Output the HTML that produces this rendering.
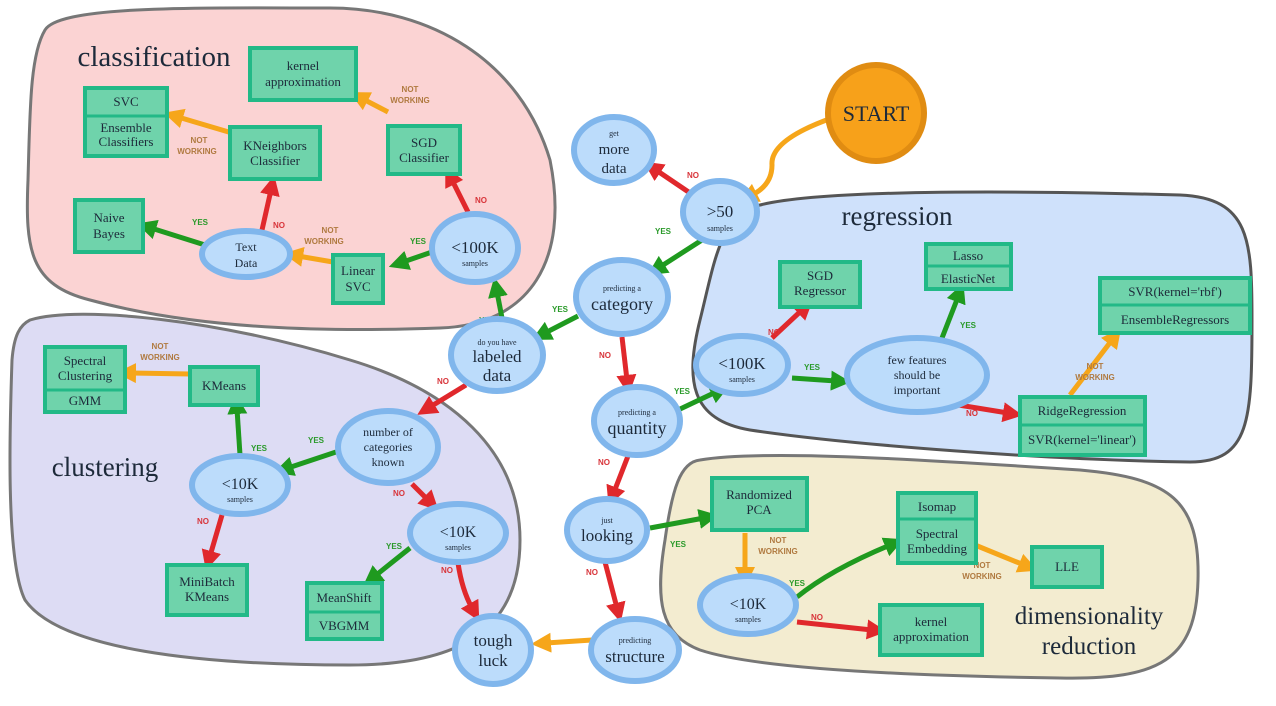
<!DOCTYPE html><html><head><meta charset="utf-8"><style>body{margin:0;background:#fff}svg{display:block}
.t{font-family:"Liberation Serif",serif;fill:#1d2a3a;text-anchor:middle}
.s{font-family:"Liberation Sans",sans-serif;font-size:8px;font-weight:bold;text-anchor:middle}
.y{fill:#2a9a2a}.n{fill:#d8343a}.w{fill:#b07a40}
</style></head><body>
<svg width="1276" height="706" viewBox="0 0 1276 706" xmlns="http://www.w3.org/2000/svg">
<defs>
<marker id="mg" markerWidth="4" markerHeight="4" refX="1" refY="2" orient="auto"><path d="M0,0L4,2L0,4z" fill="#1f9a1f"/></marker>
<marker id="mr" markerWidth="4" markerHeight="4" refX="1" refY="2" orient="auto"><path d="M0,0L4,2L0,4z" fill="#e0282c"/></marker>
<marker id="mo" markerWidth="4" markerHeight="4" refX="1" refY="2" orient="auto"><path d="M0,0L4,2L0,4z" fill="#f6a61a"/></marker>
</defs>
<path d="M45,30 C60,5 200,8 330,8 C430,8 520,60 550,160 C570,260 530,325 440,328 C330,332 200,330 90,300 C30,285 25,250 28,180 C30,110 30,55 45,30Z" fill="#fbd3d3" stroke="#777" stroke-width="3"/>
<path d="M760,205 C820,190 1000,190 1180,195 C1250,198 1252,240 1252,320 C1252,420 1250,462 1190,462 C1050,460 850,445 750,430 C690,420 685,380 700,320 C715,260 720,215 760,205Z" fill="#cfe1fb" stroke="#555" stroke-width="3"/>
<path d="M30,320 C80,305 220,320 350,360 C450,390 520,450 520,540 C520,630 460,665 350,665 C200,665 60,650 25,600 C5,560 10,420 12,360 C14,335 20,325 30,320Z" fill="#dddcf4" stroke="#777" stroke-width="3"/>
<path d="M700,460 C760,450 900,458 1080,470 C1170,478 1200,500 1198,580 C1196,660 1160,680 1060,678 C920,676 760,670 700,650 C660,635 655,600 665,540 C672,490 680,462 700,460Z" fill="#f3ecd0" stroke="#777" stroke-width="3"/>
<text class="t" x="154" y="66" font-size="29">classification</text>
<text class="t" x="897" y="225" font-size="27">regression</text>
<text class="t" x="105" y="476" font-size="27">clustering</text>
<text class="t" x="1089" y="624" font-size="25">dimensionality</text>
<text class="t" x="1089" y="654" font-size="25">reduction</text>
<g fill="none" stroke-width="5">
<path d="M832,118 Q770,140 772,165 Q772,185 752,195" stroke="#f6a61a" marker-end="url(#mo)"/>
<path d="M690,193 L656,170" stroke="#e0282c" marker-end="url(#mr)"/>
<path d="M702,240 L660,267" stroke="#1f9a1f" marker-end="url(#mg)"/>
<path d="M578,316 L545,333" stroke="#1f9a1f" marker-end="url(#mg)"/>
<path d="M622,337 L627,380" stroke="#e0282c" marker-end="url(#mr)"/>
<path d="M502,318 L497,292" stroke="#1f9a1f" marker-end="url(#mg)"/>
<path d="M466,385 L430,407" stroke="#e0282c" marker-end="url(#mr)"/>
<path d="M468,212 L452,180" stroke="#e0282c" marker-end="url(#mr)"/>
<path d="M432,252 L403,262" stroke="#1f9a1f" marker-end="url(#mg)"/>
<path d="M333,262 L298,256" stroke="#f6a61a" marker-end="url(#mo)"/>
<path d="M262,230 L271,190" stroke="#e0282c" marker-end="url(#mr)"/>
<path d="M205,245 L151,228" stroke="#1f9a1f" marker-end="url(#mg)"/>
<path d="M232,133 L178,117" stroke="#f6a61a" marker-end="url(#mo)"/>
<path d="M388,112 L363,99" stroke="#f6a61a" marker-end="url(#mo)"/>
<path d="M678,410 L716,392" stroke="#1f9a1f" marker-end="url(#mg)"/>
<path d="M772,338 L802,310" stroke="#e0282c" marker-end="url(#mr)"/>
<path d="M792,378 L836,381" stroke="#1f9a1f" marker-end="url(#mg)"/>
<path d="M942,338 L958,297" stroke="#1f9a1f" marker-end="url(#mg)"/>
<path d="M940,402 L1008,413" stroke="#e0282c" marker-end="url(#mr)"/>
<path d="M1070,395 L1112,340" stroke="#f6a61a" marker-end="url(#mo)"/>
<path d="M628,456 L614,492" stroke="#e0282c" marker-end="url(#mr)"/>
<path d="M650,528 L704,518" stroke="#1f9a1f" marker-end="url(#mg)"/>
<path d="M605,562 L617,608" stroke="#e0282c" marker-end="url(#mr)"/>
<path d="M592,640 L546,643" stroke="#f6a61a" marker-end="url(#mo)"/>
<path d="M336,452 L288,468" stroke="#1f9a1f" marker-end="url(#mg)"/>
<path d="M412,484 L428,500" stroke="#e0282c" marker-end="url(#mr)"/>
<path d="M240,455 L237,409" stroke="#1f9a1f" marker-end="url(#mg)"/>
<path d="M190,374 L131,373" stroke="#f6a61a" marker-end="url(#mo)"/>
<path d="M222,515 L210,556" stroke="#e0282c" marker-end="url(#mr)"/>
<path d="M410,548 L375,576" stroke="#1f9a1f" marker-end="url(#mg)"/>
<path d="M458,563 Q462,590 472,608" stroke="#e0282c" marker-end="url(#mr)"/>
<path d="M745,533 L745,572" stroke="#f6a61a" marker-end="url(#mo)"/>
<path d="M797,597 Q830,570 890,545" stroke="#1f9a1f" marker-end="url(#mg)"/>
<path d="M797,622 L872,630" stroke="#e0282c" marker-end="url(#mr)"/>
<path d="M975,545 L1024,565" stroke="#f6a61a" marker-end="url(#mo)"/>
</g>
<g class="s">
<text class="n" x="693" y="178">NO</text>
<text class="y" x="663" y="234">YES</text>
<text class="y" x="560" y="312">YES</text>
<text class="n" x="605" y="358">NO</text>
<text class="y" x="487" y="323">YES</text>
<text class="n" x="443" y="384">NO</text>
<text class="n" x="481" y="203">NO</text>
<text class="y" x="418" y="244">YES</text>
<text class="w" x="330" y="233">NOT</text><text class="w" x="324" y="244">WORKING</text>
<text class="n" x="279" y="228">NO</text>
<text class="y" x="200" y="225">YES</text>
<text class="w" x="199" y="143">NOT</text><text class="w" x="197" y="154">WORKING</text>
<text class="w" x="410" y="92">NOT</text><text class="w" x="410" y="103">WORKING</text>
<text class="y" x="682" y="394">YES</text>
<text class="n" x="774" y="335">NO</text>
<text class="y" x="812" y="370">YES</text>
<text class="y" x="968" y="328">YES</text>
<text class="n" x="972" y="416">NO</text>
<text class="w" x="1095" y="369">NOT</text><text class="w" x="1095" y="380">WORKING</text>
<text class="n" x="604" y="465">NO</text>
<text class="y" x="678" y="547">YES</text>
<text class="n" x="592" y="575">NO</text>
<text class="w" x="160" y="349">NOT</text><text class="w" x="160" y="360">WORKING</text>
<text class="y" x="316" y="443">YES</text>
<text class="n" x="399" y="496">NO</text>
<text class="y" x="259" y="451">YES</text>
<text class="n" x="203" y="524">NO</text>
<text class="y" x="394" y="549">YES</text>
<text class="n" x="447" y="573">NO</text>
<text class="w" x="778" y="543">NOT</text><text class="w" x="778" y="554">WORKING</text>
<text class="y" x="797" y="586">YES</text>
<text class="n" x="817" y="620">NO</text>
<text class="w" x="982" y="568">NOT</text><text class="w" x="982" y="579">WORKING</text>
</g>
<circle cx="876" cy="113" r="48" fill="#f7a11a" stroke="#e08c12" stroke-width="6"/>
<text class="t" x="876" y="121" font-size="22">START</text>
<g fill="#bcdcfb" stroke="#80b6ec" stroke-width="6">
<ellipse cx="614" cy="150" rx="40" ry="33"/>
<ellipse cx="720" cy="212" rx="37" ry="31"/>
<ellipse cx="622" cy="297" rx="46" ry="37"/>
<ellipse cx="497" cy="355" rx="46" ry="36"/>
<ellipse cx="475" cy="248" rx="43" ry="34"/>
<ellipse cx="246" cy="254" rx="44" ry="23"/>
<ellipse cx="637" cy="421" rx="43" ry="34"/>
<ellipse cx="607" cy="530" rx="40" ry="31"/>
<ellipse cx="635" cy="650" rx="44" ry="31"/>
<ellipse cx="493" cy="650" rx="38" ry="34"/>
<ellipse cx="388" cy="447" rx="50" ry="36"/>
<ellipse cx="240" cy="485" rx="48" ry="29"/>
<ellipse cx="458" cy="533" rx="48" ry="29"/>
<ellipse cx="742" cy="365" rx="46" ry="29"/>
<ellipse cx="917" cy="375" rx="70" ry="37"/>
<ellipse cx="748" cy="605" rx="48" ry="29"/>
</g>
<g class="t">
<text x="614" y="136" font-size="8">get</text><text x="614" y="154" font-size="15">more</text><text x="614" y="173" font-size="15">data</text>
<text x="720" y="217" font-size="17">&gt;50</text><text x="720" y="231" font-size="8">samples</text>
<text x="622" y="291" font-size="8">predicting a</text><text x="622" y="310" font-size="18">category</text>
<text x="497" y="345" font-size="8">do you have</text><text x="497" y="362" font-size="17">labeled</text><text x="497" y="381" font-size="17">data</text>
<text x="475" y="253" font-size="17">&lt;100K</text><text x="475" y="266" font-size="8">samples</text>
<text x="246" y="251" font-size="12">Text</text><text x="246" y="267" font-size="12">Data</text>
<text x="637" y="415" font-size="8">predicting a</text><text x="637" y="434" font-size="18">quantity</text>
<text x="607" y="523" font-size="8">just</text><text x="607" y="541" font-size="17">looking</text>
<text x="635" y="643" font-size="8">predicting</text><text x="635" y="662" font-size="17">structure</text>
<text x="493" y="646" font-size="17">tough</text><text x="493" y="666" font-size="17">luck</text>
<text x="388" y="436" font-size="12">number of</text><text x="388" y="451" font-size="12">categories</text><text x="388" y="466" font-size="12">known</text>
<text x="240" y="489" font-size="16">&lt;10K</text><text x="240" y="502" font-size="8">samples</text>
<text x="458" y="537" font-size="16">&lt;10K</text><text x="458" y="550" font-size="8">samples</text>
<text x="742" y="369" font-size="17">&lt;100K</text><text x="742" y="382" font-size="8">samples</text>
<text x="917" y="364" font-size="12">few features</text><text x="917" y="379" font-size="12">should be</text><text x="917" y="394" font-size="12">important</text>
<text x="748" y="609" font-size="16">&lt;10K</text><text x="748" y="622" font-size="8">samples</text>
</g>
<g fill="#6fd3ab" stroke="#22b987" stroke-width="4">
<rect x="250" y="48" width="106" height="52"/>
<rect x="85" y="88" width="82" height="68"/>
<rect x="230" y="127" width="90" height="52"/>
<rect x="388" y="126" width="72" height="48"/>
<rect x="75" y="200" width="68" height="52"/>
<rect x="333" y="255" width="50" height="48"/>
<rect x="45" y="347" width="80" height="65"/>
<rect x="190" y="367" width="68" height="38"/>
<rect x="167" y="565" width="80" height="50"/>
<rect x="307" y="583" width="75" height="56"/>
<rect x="780" y="262" width="80" height="45"/>
<rect x="926" y="244" width="85" height="45"/>
<rect x="1100" y="278" width="150" height="55"/>
<rect x="1020" y="397" width="125" height="58"/>
<rect x="712" y="478" width="95" height="52"/>
<rect x="898" y="493" width="78" height="70"/>
<rect x="1032" y="547" width="70" height="40"/>
<rect x="880" y="605" width="102" height="50"/>
</g>
<g stroke="#22b987" stroke-width="3">
<line x1="85" y1="116" x2="167" y2="116"/>
<line x1="45" y1="390" x2="125" y2="390"/>
<line x1="307" y1="612" x2="382" y2="612"/>
<line x1="926" y1="266" x2="1011" y2="266"/>
<line x1="1100" y1="305" x2="1250" y2="305"/>
<line x1="1020" y1="425" x2="1145" y2="425"/>
<line x1="898" y1="519" x2="976" y2="519"/>
</g>
<g class="t" font-size="13">
<text x="303" y="70">kernel</text><text x="303" y="86">approximation</text>
<text x="126" y="106">SVC</text><text x="126" y="132">Ensemble</text><text x="126" y="146">Classifiers</text>
<text x="275" y="150">KNeighbors</text><text x="275" y="165">Classifier</text>
<text x="424" y="147">SGD</text><text x="424" y="162">Classifier</text>
<text x="109" y="222">Naive</text><text x="109" y="238">Bayes</text>
<text x="358" y="275">Linear</text><text x="358" y="291">SVC</text>
<text x="85" y="365">Spectral</text><text x="85" y="380">Clustering</text><text x="85" y="405">GMM</text>
<text x="224" y="390">KMeans</text>
<text x="207" y="586">MiniBatch</text><text x="207" y="601">KMeans</text>
<text x="344" y="602">MeanShift</text><text x="344" y="630">VBGMM</text>
<text x="820" y="280">SGD</text><text x="820" y="295">Regressor</text>
<text x="968" y="260">Lasso</text><text x="968" y="283">ElasticNet</text>
<text x="1175" y="296">SVR(kernel='rbf')</text><text x="1175" y="324">EnsembleRegressors</text>
<text x="1082" y="415">RidgeRegression</text><text x="1082" y="444">SVR(kernel='linear')</text>
<text x="759" y="499">Randomized</text><text x="759" y="514">PCA</text>
<text x="937" y="511">Isomap</text><text x="937" y="538">Spectral</text><text x="937" y="553">Embedding</text>
<text x="1067" y="571">LLE</text>
<text x="931" y="626">kernel</text><text x="931" y="641">approximation</text>
</g>
</svg>
</body></html>
